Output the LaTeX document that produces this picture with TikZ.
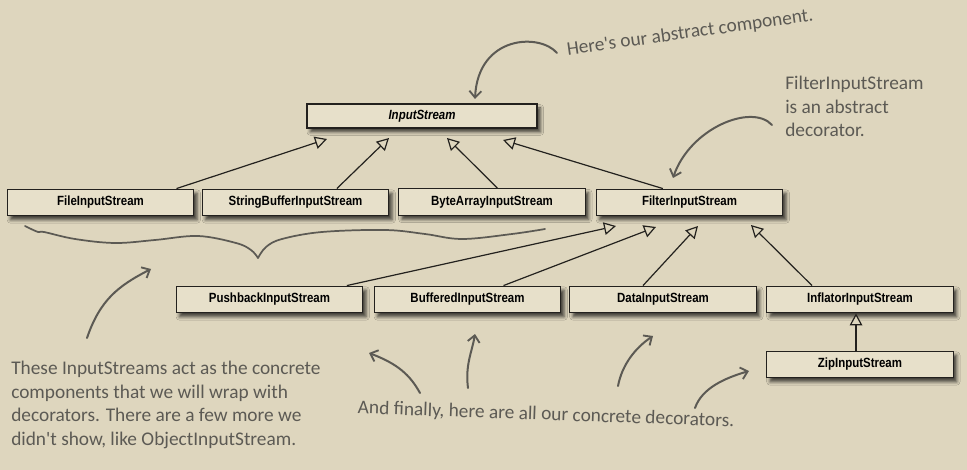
\documentclass[tikz,border=0pt]{standalone}
\usepackage{fontspec}
\setmainfont{Liberation Sans}
\newfontfamily\boxfont[FakeStretch=0.86]{Liberation Sans}
\newfontfamily\handfont{Carlito}
\usetikzlibrary{arrows.meta, shadows.blur}

\definecolor{bg}{RGB}{222,214,190}
\definecolor{boxfill}{RGB}{231,224,202}
\definecolor{hand}{RGB}{92,90,84}
\definecolor{ink}{RGB}{35,33,30}

\begin{document}
\begin{tikzpicture}[x=0.75pt, y=-0.75pt,
  cls/.style={draw=ink, line width=0.9pt, fill=boxfill, minimum width=140pt,
    minimum height=20pt, inner sep=0pt,
    font=\boxfont\bfseries\fontsize{10}{11}\selectfont,
    blur shadow={shadow xshift=2.5pt, shadow yshift=-3pt,
      shadow blur radius=2.5pt, shadow opacity=70}},
  inh/.style={line width=0.9pt, draw=ink,
    -{Triangle[length=9pt, width=9.5pt, fill=bg, line width=0.9pt]}},
  note/.style={text=hand, font=\handfont\fontsize{14.5}{17.6}\selectfont,
    inner sep=0pt},
  harrow/.style={draw=hand, line width=1.5pt, line cap=round,
    -{Straight Barb[length=5pt, width=9pt, line width=1.4pt]}},
  hline/.style={draw=hand, line width=1.3pt, line cap=round}
]
\fill[bg] (0,0) rectangle (967,470);
\useasboundingbox (0,0) rectangle (967,470);

% class boxes
\node[cls, minimum width=172.5pt, minimum height=18pt,
  font=\boxfont\bfseries\itshape\fontsize{10}{11}\selectfont] (IS) at (422,116) {InputStream};
\node[cls] (FILE) at (100.5,202.5) {FileInputStream};
\node[cls] (SB)   at (295.5,202.5) {StringBufferInputStream};
\node[cls] (BA)   at (492,202) {ByteArrayInputStream};
\node[cls] (FIS)  at (689.5,202.5) {FilterInputStream};
\node[cls] (PB)   at (269.5,299.5) {PushbackInputStream};
\node[cls] (BUF)  at (467.5,299.5) {BufferedInputStream};
\node[cls] (DATA) at (663,299.5) {DataInputStream};
\node[cls] (INF)  at (860,299.5) {InflatorInputStream};
\node[cls] (ZIP)  at (860,364.5) {ZipInputStream};

% arrow tip points
\coordinate (t1) at (327,139);
\coordinate (t2) at (389,138);
\coordinate (t3) at (447,138);
\coordinate (t4) at (503,140);
\coordinate (u1) at (616,226);
\coordinate (u2) at (656,227);
\coordinate (u3) at (698,226);
\coordinate (u4) at (751,225);

\draw[inh] ([xshift=57pt]FILE.north) -- (t1);
\draw[inh] ([xshift=31pt]SB.north) -- (t2);
\draw[inh] ([xshift=4pt]BA.north) -- (t3);
\draw[inh] ([xshift=-20pt]FIS.north) -- (t4);
\draw[inh] ([xshift=58pt]PB.north) -- (u1);
\draw[inh] ([xshift=27pt]BUF.north) -- (u2);
\draw[inh] ([xshift=-15pt]DATA.north) -- (u3);
\draw[inh] ([xshift=-36pt]INF.north) -- (u4);
\draw[inh] (ZIP.north -| 856,0) -- (INF.south -| 856,0);

% notes
\node[note, rotate=8] (n1) at (690,33) {Here's our abstract component.};
\node[note, anchor=north west, align=left] (n2) at (785,76)
  {FilterInputStream\\is an abstract\\decorator.};
\node[note, anchor=north west, align=left] (n3) at (11,361)
  {These InputStreams act as the concrete\\components that we will wrap with\\decorators. There are a few more we\\didn't show, like ObjectInputStream.};
\node[note, rotate=-2] (n4) at (546,415)
  {And finally, here are all our concrete decorators.};

% handwritten arrows
\coordinate (a0) at (557,53);  \coordinate (a1) at (475,99);
\draw[harrow] (a0) .. controls (540,33) and (478,35) .. (a1);
\coordinate (b0) at (772,125); \coordinate (b1) at (673,178);
\draw[harrow] (b0) .. controls (752,103) and (690,128) .. (b1);
\coordinate (d0) at (87,338);  \coordinate (d1) at (151,269);
\draw[harrow] (d0) .. controls (100,300) and (118,286) .. (d1);
\coordinate (e10) at (420,393); \coordinate (e11) at (369,353);
\draw[harrow] (e10) .. controls (410,375) and (398,364) .. (e11);
\coordinate (e20) at (468,388); \coordinate (e21) at (475,334);
\draw[harrow] (e20) .. controls (465,365) and (472,352) .. (e21);
\coordinate (e30) at (618,386); \coordinate (e31) at (653,336);
\draw[harrow] (e30) .. controls (622,365) and (635,348) .. (e31);
\coordinate (e40) at (695,408); \coordinate (e41) at (749,371);
\draw[harrow] (e40) .. controls (702,388) and (725,378) .. (e41);

% brace
\draw[hline] plot[smooth, tension=0.6] coordinates {(25,226) (38,232) (44,232)
  (75,239) (115,243) (155,240) (198,236) (236,243) (251,250) (258,258)};
\draw[hline] plot[smooth, tension=0.6] coordinates {(258,258) (266,247)
  (282,239) (322,232) (385,230) (425,234) (462,239) (512,234) (545,229)};
\end{tikzpicture}
\end{document}
